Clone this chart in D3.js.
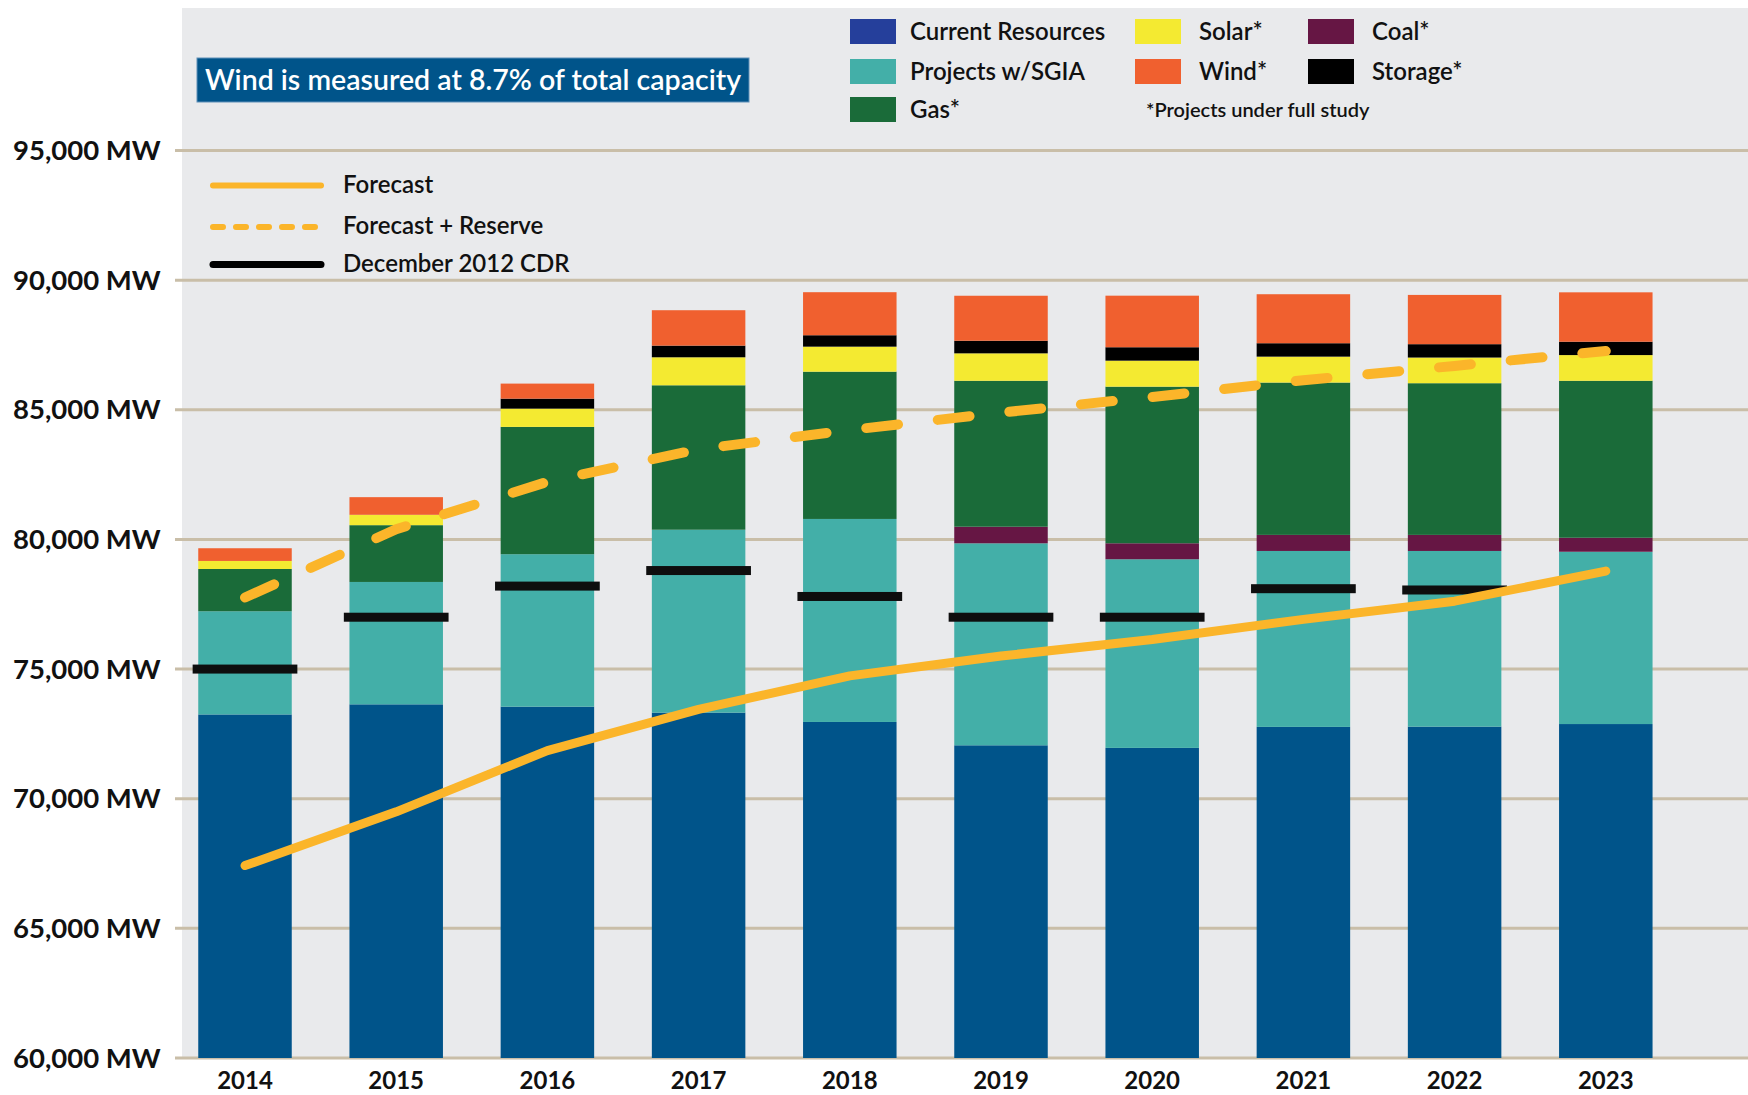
<!DOCTYPE html>
<html>
<head>
  <meta charset="utf-8">
  <script src="https://d3js.org/d3.v7.min.js"></script>
  <style>
    body { margin: 0; background: #fff; }
    svg text { font-family: Lato, "Open Sans", sans-serif; fill: #111; }
  </style>
</head>
<body>
<script>
  // ---- data (MW) ----
  var years = ["2014","2015","2016","2017","2018","2019","2020","2021","2022","2023"];
  var currentRes = [73250, 73640, 73550, 73320, 72960, 72060, 71960, 72770, 72780, 72880];
  var sgia       = [ 3980,  4720,  5880,  7055,  7830,  7790,  7275,  6785,  6775,  6645];
  var coal       = [    0,     0,     0,     0,     0,   640,   617,   620,   620,   540];
  var gas        = [ 1630,  2190,  4910,  5570,  5680,  5630,  6040,  5875,  5850,  6055];
  var solar      = [  310,   400,   705,  1080,   965,  1057,  1003,  1000,   990,   990];
  var storage    = [    0,     0,   385,   450,   440,   486,   517,   517,   515,   515];
  var wind       = [  490,   680,   580,  1365,  1660,  1735,  1989,  1890,  1900,  1905];
  var forecast        = [67420, 69495, 71855, 73444, 74737, 75504, 76138, 76917, 77618, 78778];
  var forecastReserve = [77760, 80395, 82222, 83476, 84220, 84891, 85492, 86141, 86692, 87267];
  var cdr = [75000, 77000, 78200, 78800, 77800, 77000, 77000, 78100, 78050, null];
  var yTicks = [60000, 65000, 70000, 75000, 80000, 85000, 90000, 95000];

  var series = [
    {key: "Current Resources", values: currentRes, color: "#00548a", legend: "#253f9b"},
    {key: "Projects w/SGIA",   values: sgia,       color: "#43afa8", legend: "#43afa8"},
    {key: "Coal*",             values: coal,       color: "#661644", legend: "#661644"},
    {key: "Gas*",              values: gas,        color: "#1a6b39", legend: "#1a6b39"},
    {key: "Solar*",            values: solar,      color: "#f4ea31", legend: "#f4ea31"},
    {key: "Storage*",          values: storage,    color: "#000000", legend: "#000000"},
    {key: "Wind*",             values: wind,       color: "#f0602f", legend: "#f0602f"}
  ];

  var W = 1748, H = 1095;
  var svg = d3.select("body").append("svg").attr("width", W).attr("height", H);

  // plot background
  svg.append("rect").attr("x", 182).attr("y", 8).attr("width", W - 182).attr("height", 1050)
    .attr("fill", "#e9eaec");

  var x = d3.scaleBand().domain(years).range([169.4, 1681.4]).paddingInner(0.3816).paddingOuter(0.1908);
  var y = d3.scaleLinear().domain([60000, 95000]).range([1058, 150.5]);

  // gridlines
  svg.append("g").selectAll("line").data(yTicks).enter().append("line")
    .attr("x1", 175).attr("x2", W)
    .attr("y1", function (d) { return y(d); }).attr("y2", function (d) { return y(d); })
    .attr("stroke", "#c9bea8").attr("stroke-width", 3);

  // y labels
  svg.append("g").selectAll("text").data(yTicks).enter().append("text")
    .attr("x", 13).attr("y", function (d) { return y(d) + 9.5; })
    .style("font-size", "27.5px").style("font-weight", 700)
    .text(function (d) { return d3.format(",")(d) + " MW"; });

  // stacked bars
  var rows = years.map(function (yr, i) {
    var r = {year: yr};
    series.forEach(function (s) { r[s.key] = s.values[i]; });
    return r;
  });
  var stack = d3.stack().keys(series.map(function (s) { return s.key; }));
  var layers = stack(rows);
  svg.append("g").selectAll("g").data(layers).enter().append("g")
    .attr("fill", function (d, i) { return series[i].color; })
    .selectAll("rect").data(function (d) { return d; }).enter().append("rect")
    .attr("x", function (d) { return x(d.data.year); })
    .attr("width", x.bandwidth())
    .attr("y", function (d) { return y(d[1]); })
    .attr("height", function (d) { return Math.max(0, y(Math.max(d[0], 60000)) - y(d[1])); });

  // December 2012 CDR marks
  var cdrW = x.bandwidth() * 1.12;
  svg.append("g").selectAll("rect").data(years.filter(function (d, i) { return cdr[i] != null; }))
    .enter().append("rect")
    .attr("x", function (d) { return x(d) + x.bandwidth() / 2 - cdrW / 2; })
    .attr("width", cdrW)
    .attr("y", function (d) { return y(cdr[years.indexOf(d)]) - 4.5; })
    .attr("height", 9)
    .attr("fill", "#0e0e0e");

  var cx = function (d, i) { return x(years[i]) + x.bandwidth() / 2; };

  // forecast + reserve (dashed)
  svg.append("path")
    .attr("d", d3.line().x(cx).y(function (d) { return y(d); })(forecastReserve))
    .attr("fill", "none").attr("stroke", "#fbb52a").attr("stroke-width", 10)
    .attr("stroke-linecap", "round").attr("stroke-dasharray", "32 40");

  // forecast (solid)
  svg.append("path")
    .attr("d", d3.line().x(cx).y(function (d) { return y(d); })(forecast))
    .attr("fill", "none").attr("stroke", "#fbb52a").attr("stroke-width", 9)
    .attr("stroke-linecap", "round").attr("stroke-linejoin", "round");

  // x labels
  svg.append("g").selectAll("text").data(years).enter().append("text")
    .attr("x", function (d) { return x(d) + x.bandwidth() / 2; })
    .attr("y", 1089)
    .attr("text-anchor", "middle")
    .style("font-size", "24px").style("font-weight", 700)
    .text(function (d) { return d; });

  // note box
  svg.append("rect").attr("x", 197).attr("y", 58).attr("width", 552).attr("height", 44)
    .attr("fill", "#00548a").attr("stroke", "#5f8fb8").attr("stroke-width", 1);
  svg.append("text").attr("x", 473).attr("y", 89.5).attr("text-anchor", "middle")
    .style("font-size", "28.5px").style("font-weight", 600).style("fill", "#fff")
    .text("Wind is measured at 8.7% of total capacity");

  // line legend
  var lineLegend = [
    {label: "Forecast", color: "#fbb52a", dash: null, w: 6, y: 185.5},
    {label: "Forecast + Reserve", color: "#fbb52a", dash: "10 13", w: 6, y: 227},
    {label: "December 2012 CDR", color: "#000", dash: null, w: 7, y: 264.5}
  ];
  var ll = svg.append("g").selectAll("g").data(lineLegend).enter().append("g");
  ll.append("line").attr("x1", 213).attr("x2", 321)
    .attr("y1", function (d) { return d.y; }).attr("y2", function (d) { return d.y; })
    .attr("stroke", function (d) { return d.color; })
    .attr("stroke-width", function (d) { return d.w; })
    .attr("stroke-linecap", "round")
    .attr("stroke-dasharray", function (d) { return d.dash; });
  ll.append("text").attr("x", 343).attr("y", function (d) { return d.y + 7; })
    .style("font-size", "24px").style("font-weight", 600)
    .text(function (d) { return d.label; });

  // swatch legend
  var legendItems = [
    {s: series[0], col: 0, row: 0}, {s: series[1], col: 0, row: 1}, {s: series[3], col: 0, row: 2},
    {s: series[4], col: 1, row: 0}, {s: series[6], col: 1, row: 1},
    {s: series[2], col: 2, row: 0}, {s: series[5], col: 2, row: 1}
  ];
  var colX = [850, 1135, 1308];
  var rowY = [19, 59, 97];
  var li = svg.append("g").selectAll("g").data(legendItems).enter().append("g");
  li.append("rect")
    .attr("x", function (d) { return colX[d.col]; })
    .attr("y", function (d) { return rowY[d.row]; })
    .attr("width", 46).attr("height", 25)
    .attr("fill", function (d) { return d.s.legend; });
  li.append("text")
    .attr("x", function (d) { return colX[d.col] + (d.col === 0 ? 60 : 64); })
    .attr("y", function (d) { return rowY[d.row] + 21; })
    .style("font-size", "24px").style("font-weight", 600)
    .text(function (d) { return d.s.key; });
  svg.append("text").attr("x", 1146).attr("y", 117)
    .style("font-size", "20px").style("font-weight", 600)
    .text("*Projects under full study");
</script>
</body>
</html>
